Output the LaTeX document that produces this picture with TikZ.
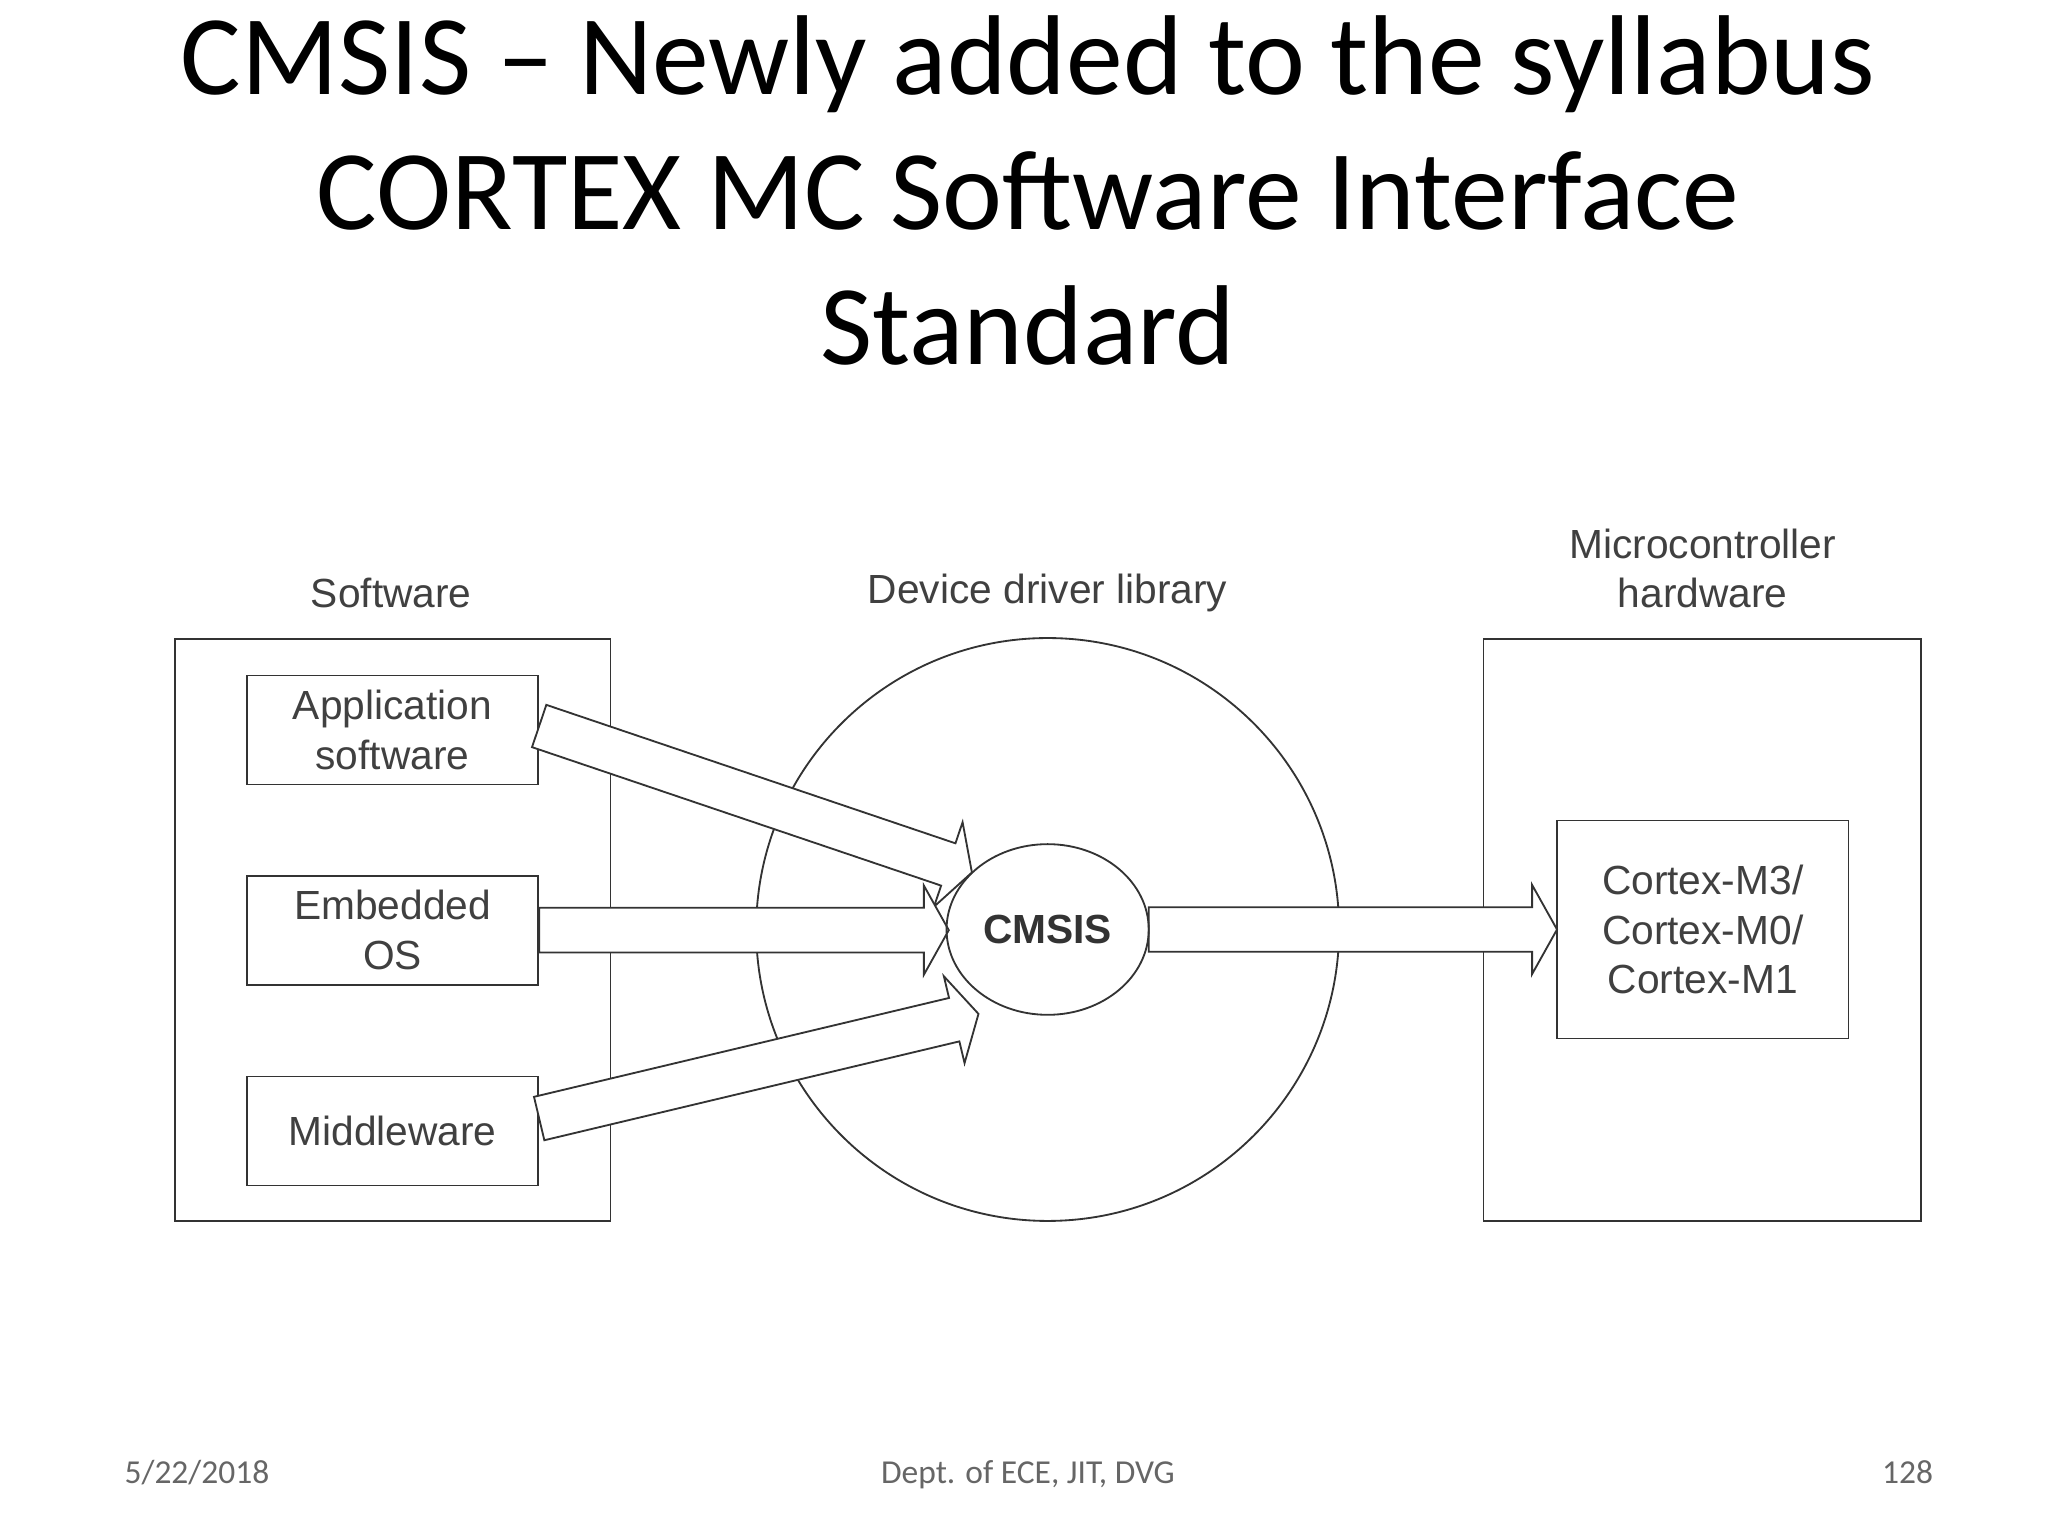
\documentclass[tikz,border=0pt]{standalone}
\usepackage{fontspec}
\usetikzlibrary{shapes.geometric}
\setmainfont{Carlito}
\newfontfamily\diag{Liberation Sans}
\begin{document}
\begin{tikzpicture}[x=1pt,y=-1pt,
  ln/.style={draw=black!80,line width=1.4pt},
  box/.style={ln,minimum width=222pt,minimum height=83pt,align=center,font=\diag\fontsize{31}{38}\selectfont,text=black!75},
  lbl/.style={align=center,font=\diag\fontsize{31}{38}\selectfont,text=black!75},
  ttl/.style={anchor=base,font=\fontsize{86.5}{100}\selectfont},
  foot/.style={anchor=base,font=\fontsize{25.5}{30}\selectfont,text=black!60}]
\useasboundingbox[fill=white] (0,0) rectangle (1560,1170);
\node[ttl] (t1) at (783,72) {CMSIS – Newly added to the syllabus};
\node[ttl] (t2) at (783,175) {CORTEX MC Software Interface};
\node[ttl] (t3) at (783,278) {Standard};
% left box
\node[ln,minimum width=332pt,minimum height=443pt] (sw) at (299,708.5) {};
\node[lbl] (swl) at (298,452) {Software};
\node[box] (app) at (299,556) {Application\\software};
\node[box] (eos) at (299,708.5) {Embedded\\OS};
\node[box] (mid) at (299,861.5) {Middleware};
% circle
\node[ln,circle,minimum size=444pt] (big) at (798,708) {};
\node[lbl] (ddl) at (798,452) {Device driver library};
% right box
\node[ln,minimum width=333pt,minimum height=443pt] (hw) at (1296.5,708.5) {};
\node[lbl] (hwl) at (1297,433) {Microcontroller\\hardware};
\node[box,minimum height=166pt] (cx) at (1297,708) {Cortex-M3/\\Cortex-M0/\\Cortex-M1};
% arrows
\newcommand\fatarr[3]{%
 \begin{scope}[shift={#1},rotate=#2]
 \draw[ln,fill=white,line join=miter] (0,-17) -- (#3-19,-17) -- (#3-19,-34) -- (#3,0) -- (#3-19,34) -- (#3-19,17) -- (0,17) -- cycle;
 \end{scope}}
\fatarr{(app.east |- 0,553)}{-18.7}{348}
\fatarr{(eos.east)}{0}{312}
\fatarr{(mid.east |- 0,852)}{13.4}{344}
\fatarr{(875,708)}{0}{311}
\node[ln,ellipse,minimum width=154pt,minimum height=130pt,font=\diag\bfseries\fontsize{31}{37}\selectfont,text=black!80] (cm) at (798,708) {CMSIS};
% footer
\node[foot] (f1) at (150,1130) {5/22/2018};
\node[foot] (f2) at (783,1130) {Dept. of ECE, JIT, DVG};
\node[foot] (f3) at (1453,1130) {128};
\end{tikzpicture}
\end{document}
